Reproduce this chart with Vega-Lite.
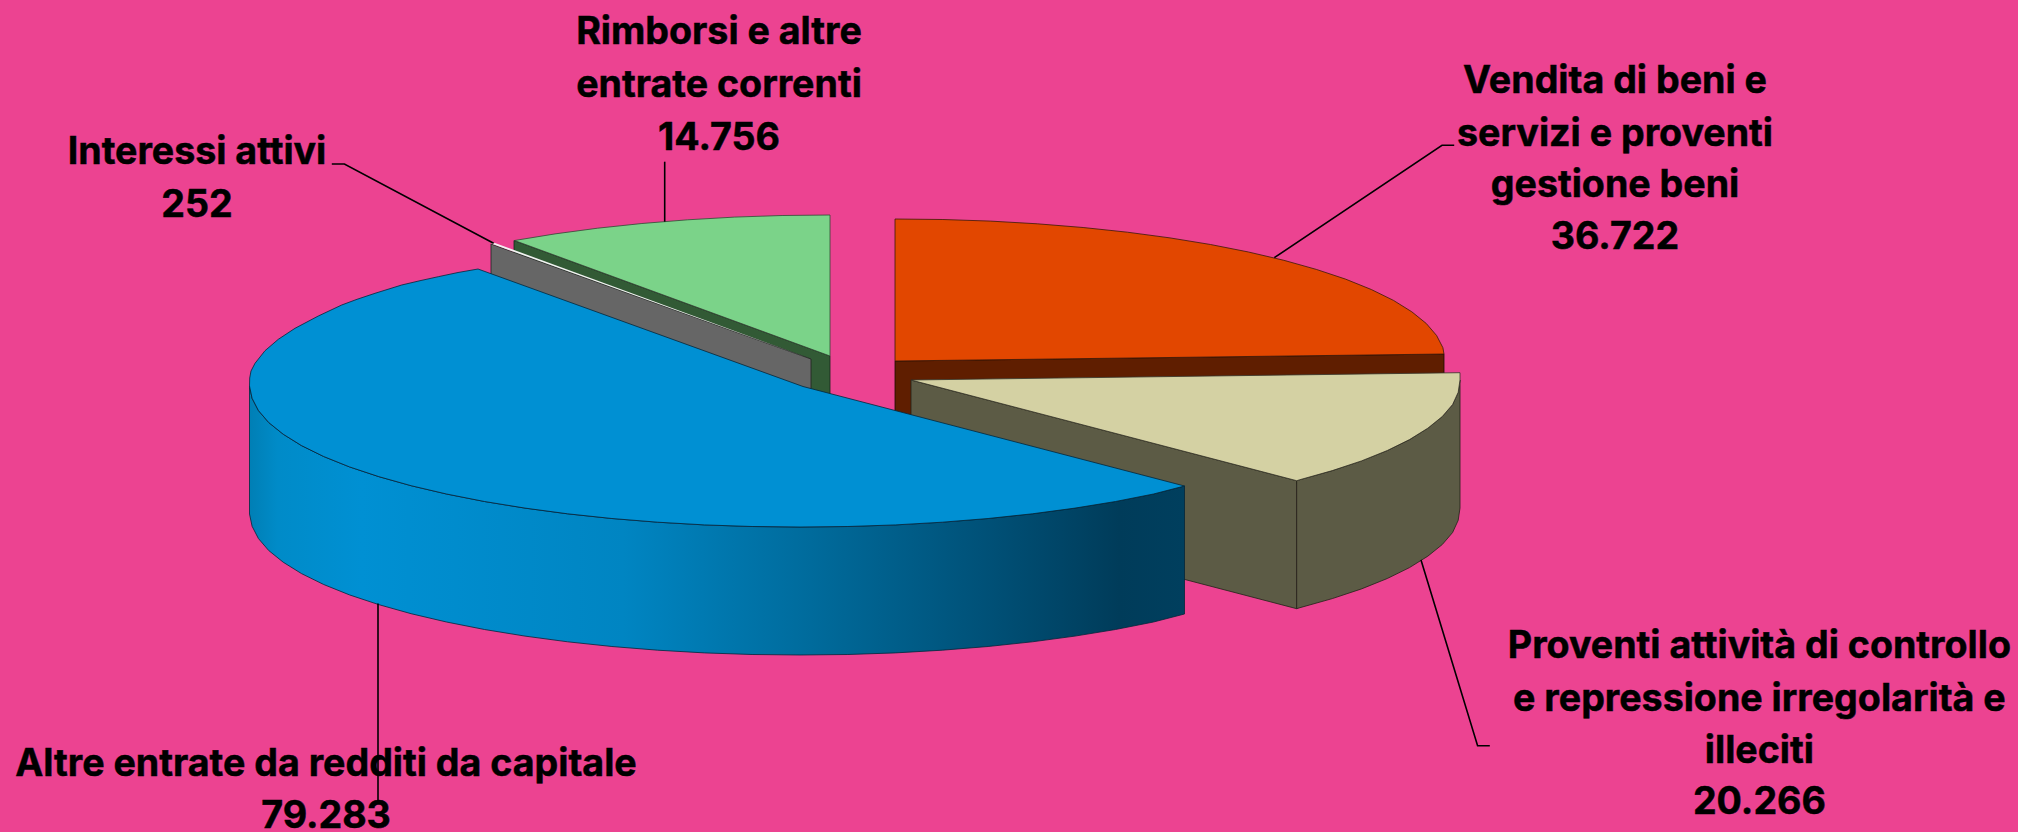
{"$schema":"https://vega.github.io/schema/vega-lite/v6.json","width":2018,"height":832,"autosize":{"type":"fit","contains":"padding"},"padding":0,"background":"#ec4391","config":{"view":{"stroke":null}},
"datasets":{
"poly":[
{"s":"orangeCut","i":0,"x":895,"y":361},{"s":"orangeCut","i":1,"x":1444,"y":354},{"s":"orangeCut","i":2,"x":1444,"y":482},{"s":"orangeCut","i":3,"x":895,"y":489},{"s":"orangeCut","i":4,"x":895,"y":361},
{"s":"orangeTop","i":0,"x":895,"y":361},{"s":"orangeTop","i":1,"x":895,"y":219},{"s":"orangeTop","i":2,"x":942.9,"y":219.5},{"s":"orangeTop","i":3,"x":990.5,"y":221.1},{"s":"orangeTop","i":4,"x":1037.3,"y":223.8},{"s":"orangeTop","i":5,"x":1083.1,"y":227.5},{"s":"orangeTop","i":6,"x":1127.4,"y":232.2},{"s":"orangeTop","i":7,"x":1170,"y":237.9},{"s":"orangeTop","i":8,"x":1210.5,"y":244.5},{"s":"orangeTop","i":9,"x":1248.5,"y":252},{"s":"orangeTop","i":10,"x":1283.9,"y":260.3},{"s":"orangeTop","i":11,"x":1316.3,"y":269.4},{"s":"orangeTop","i":12,"x":1345.5,"y":279.1},{"s":"orangeTop","i":13,"x":1371.3,"y":289.5},{"s":"orangeTop","i":14,"x":1393.5,"y":300.4},{"s":"orangeTop","i":15,"x":1411.8,"y":311.8},{"s":"orangeTop","i":16,"x":1426.3,"y":323.5},{"s":"orangeTop","i":17,"x":1436.6,"y":335.5},{"s":"orangeTop","i":18,"x":1442.9,"y":347.7},{"s":"orangeTop","i":19,"x":1444,"y":354},{"s":"orangeTop","i":20,"x":895,"y":361},
{"s":"greenCut","i":0,"x":514,"y":240.5},{"s":"greenCut","i":1,"x":830,"y":356},{"s":"greenCut","i":2,"x":830,"y":484},{"s":"greenCut","i":3,"x":514,"y":368.5},{"s":"greenCut","i":4,"x":514,"y":240.5},
{"s":"greenTop","i":0,"x":830,"y":356},{"s":"greenTop","i":1,"x":830,"y":215},{"s":"greenTop","i":2,"x":782.1,"y":215.5},{"s":"greenTop","i":3,"x":734.5,"y":217.1},{"s":"greenTop","i":4,"x":687.7,"y":219.8},{"s":"greenTop","i":5,"x":641.9,"y":223.5},{"s":"greenTop","i":6,"x":597.6,"y":228.2},{"s":"greenTop","i":7,"x":555,"y":233.9},{"s":"greenTop","i":8,"x":514.5,"y":240.5},{"s":"greenTop","i":9,"x":830,"y":356},
{"s":"grayCut","i":0,"x":491,"y":244},{"s":"grayCut","i":1,"x":811,"y":359},{"s":"grayCut","i":2,"x":811,"y":487},{"s":"grayCut","i":3,"x":491,"y":372},{"s":"grayCut","i":4,"x":491,"y":244},
{"s":"grayTop","i":0,"x":811,"y":359},{"s":"grayTop","i":1,"x":491,"y":243.6},{"s":"grayTop","i":2,"x":495,"y":243},{"s":"grayTop","i":3,"x":811,"y":359},
{"s":"beigeCut","i":0,"x":911,"y":380},{"s":"beigeCut","i":1,"x":1296.7,"y":480.7},{"s":"beigeCut","i":2,"x":1296.7,"y":608.7},{"s":"beigeCut","i":3,"x":911,"y":508},{"s":"beigeCut","i":4,"x":911,"y":380},
{"s":"beigeRim","i":0,"x":1296.7,"y":480.7},{"s":"beigeRim","i":1,"x":1299.9,"y":479.7},{"s":"beigeRim","i":2,"x":1332.3,"y":470.6},{"s":"beigeRim","i":3,"x":1361.5,"y":460.9},{"s":"beigeRim","i":4,"x":1387.3,"y":450.5},{"s":"beigeRim","i":5,"x":1409.5,"y":439.6},{"s":"beigeRim","i":6,"x":1427.8,"y":428.2},{"s":"beigeRim","i":7,"x":1442.3,"y":416.5},{"s":"beigeRim","i":8,"x":1452.6,"y":404.5},{"s":"beigeRim","i":9,"x":1458.2,"y":392.3},{"s":"beigeRim","i":10,"x":1460,"y":380},{"s":"beigeRim","i":11,"x":1460,"y":508},{"s":"beigeRim","i":12,"x":1458.2,"y":520.3},{"s":"beigeRim","i":13,"x":1452.6,"y":532.5},{"s":"beigeRim","i":14,"x":1442.3,"y":544.5},{"s":"beigeRim","i":15,"x":1427.8,"y":556.2},{"s":"beigeRim","i":16,"x":1409.5,"y":567.6},{"s":"beigeRim","i":17,"x":1387.3,"y":578.5},{"s":"beigeRim","i":18,"x":1361.5,"y":588.9},{"s":"beigeRim","i":19,"x":1332.3,"y":598.6},{"s":"beigeRim","i":20,"x":1299.9,"y":607.7},{"s":"beigeRim","i":21,"x":1296.7,"y":608.7},{"s":"beigeRim","i":22,"x":1296.7,"y":480.7},
{"s":"beigeTop","i":0,"x":911,"y":380},{"s":"beigeTop","i":1,"x":1460,"y":372.7},{"s":"beigeTop","i":2,"x":1460,"y":380},{"s":"beigeTop","i":3,"x":1458.2,"y":392.3},{"s":"beigeTop","i":4,"x":1452.6,"y":404.5},{"s":"beigeTop","i":5,"x":1442.3,"y":416.5},{"s":"beigeTop","i":6,"x":1427.8,"y":428.2},{"s":"beigeTop","i":7,"x":1409.5,"y":439.6},{"s":"beigeTop","i":8,"x":1387.3,"y":450.5},{"s":"beigeTop","i":9,"x":1361.5,"y":460.9},{"s":"beigeTop","i":10,"x":1332.3,"y":470.6},{"s":"beigeTop","i":11,"x":1299.9,"y":479.7},{"s":"beigeTop","i":12,"x":1296.7,"y":480.7},{"s":"beigeTop","i":13,"x":911,"y":380},
{"s":"blueSide","i":0,"x":249.5,"y":386},{"s":"blueSide","i":1,"x":252.1,"y":398.3},{"s":"blueSide","i":2,"x":258.4,"y":410.5},{"s":"blueSide","i":3,"x":268.7,"y":422.5},{"s":"blueSide","i":4,"x":283.2,"y":434.2},{"s":"blueSide","i":5,"x":301.5,"y":445.6},{"s":"blueSide","i":6,"x":323.7,"y":456.5},{"s":"blueSide","i":7,"x":349.5,"y":466.9},{"s":"blueSide","i":8,"x":378.7,"y":476.6},{"s":"blueSide","i":9,"x":411.1,"y":485.7},{"s":"blueSide","i":10,"x":446.5,"y":494},{"s":"blueSide","i":11,"x":484.5,"y":501.5},{"s":"blueSide","i":12,"x":525,"y":508.1},{"s":"blueSide","i":13,"x":567.6,"y":513.8},{"s":"blueSide","i":14,"x":611.9,"y":518.5},{"s":"blueSide","i":15,"x":657.7,"y":522.2},{"s":"blueSide","i":16,"x":704.5,"y":524.9},{"s":"blueSide","i":17,"x":752.1,"y":526.5},{"s":"blueSide","i":18,"x":800,"y":527},{"s":"blueSide","i":19,"x":847.9,"y":526.5},{"s":"blueSide","i":20,"x":895.5,"y":524.9},{"s":"blueSide","i":21,"x":942.3,"y":522.2},{"s":"blueSide","i":22,"x":988.1,"y":518.5},{"s":"blueSide","i":23,"x":1032.4,"y":513.8},{"s":"blueSide","i":24,"x":1075,"y":508.1},{"s":"blueSide","i":25,"x":1115.5,"y":501.5},{"s":"blueSide","i":26,"x":1153.5,"y":494},{"s":"blueSide","i":27,"x":1184.5,"y":486},
{"s":"blueSide","i":28,"x":1184.5,"y":614},{"s":"blueSide","i":29,"x":1153.5,"y":622},{"s":"blueSide","i":30,"x":1115.5,"y":629.5},{"s":"blueSide","i":31,"x":1075,"y":636.1},{"s":"blueSide","i":32,"x":1032.4,"y":641.8},{"s":"blueSide","i":33,"x":988.1,"y":646.5},{"s":"blueSide","i":34,"x":942.3,"y":650.2},{"s":"blueSide","i":35,"x":895.5,"y":652.9},{"s":"blueSide","i":36,"x":847.9,"y":654.5},{"s":"blueSide","i":37,"x":800,"y":655},{"s":"blueSide","i":38,"x":752.1,"y":654.5},{"s":"blueSide","i":39,"x":704.5,"y":652.9},{"s":"blueSide","i":40,"x":657.7,"y":650.2},{"s":"blueSide","i":41,"x":611.9,"y":646.5},{"s":"blueSide","i":42,"x":567.6,"y":641.8},{"s":"blueSide","i":43,"x":525,"y":636.1},{"s":"blueSide","i":44,"x":484.5,"y":629.5},{"s":"blueSide","i":45,"x":446.5,"y":622},{"s":"blueSide","i":46,"x":411.1,"y":613.7},{"s":"blueSide","i":47,"x":378.7,"y":604.6},{"s":"blueSide","i":48,"x":349.5,"y":594.9},{"s":"blueSide","i":49,"x":323.7,"y":584.5},{"s":"blueSide","i":50,"x":301.5,"y":573.6},{"s":"blueSide","i":51,"x":283.2,"y":562.2},{"s":"blueSide","i":52,"x":268.7,"y":550.5},{"s":"blueSide","i":53,"x":258.4,"y":538.5},{"s":"blueSide","i":54,"x":252.1,"y":526.3},{"s":"blueSide","i":55,"x":249.5,"y":514},{"s":"blueSide","i":56,"x":249.5,"y":386},
{"s":"blueTop","i":0,"x":803,"y":386.5},{"s":"blueTop","i":1,"x":478,"y":269},{"s":"blueTop","i":2,"x":458,"y":272.5},{"s":"blueTop","i":3,"x":438.3,"y":276.7},{"s":"blueTop","i":4,"x":420,"y":280.7},{"s":"blueTop","i":5,"x":401.7,"y":285},{"s":"blueTop","i":6,"x":375,"y":293.3},{"s":"blueTop","i":7,"x":357,"y":299.3},{"s":"blueTop","i":8,"x":341.7,"y":305},{"s":"blueTop","i":9,"x":318.3,"y":316},{"s":"blueTop","i":10,"x":295,"y":328.3},{"s":"blueTop","i":11,"x":278.3,"y":339.3},{"s":"blueTop","i":12,"x":265,"y":350.7},{"s":"blueTop","i":13,"x":255,"y":363.3},{"s":"blueTop","i":14,"x":251,"y":371},{"s":"blueTop","i":15,"x":249.7,"y":378},{"s":"blueTop","i":16,"x":249.5,"y":386},{"s":"blueTop","i":17,"x":252.1,"y":398.3},{"s":"blueTop","i":18,"x":258.4,"y":410.5},{"s":"blueTop","i":19,"x":268.7,"y":422.5},{"s":"blueTop","i":20,"x":283.2,"y":434.2},{"s":"blueTop","i":21,"x":301.5,"y":445.6},{"s":"blueTop","i":22,"x":323.7,"y":456.5},{"s":"blueTop","i":23,"x":349.5,"y":466.9},{"s":"blueTop","i":24,"x":378.7,"y":476.6},{"s":"blueTop","i":25,"x":411.1,"y":485.7},{"s":"blueTop","i":26,"x":446.5,"y":494},{"s":"blueTop","i":27,"x":484.5,"y":501.5},{"s":"blueTop","i":28,"x":525,"y":508.1},{"s":"blueTop","i":29,"x":567.6,"y":513.8},{"s":"blueTop","i":30,"x":611.9,"y":518.5},{"s":"blueTop","i":31,"x":657.7,"y":522.2},{"s":"blueTop","i":32,"x":704.5,"y":524.9},{"s":"blueTop","i":33,"x":752.1,"y":526.5},{"s":"blueTop","i":34,"x":800,"y":527},{"s":"blueTop","i":35,"x":847.9,"y":526.5},{"s":"blueTop","i":36,"x":895.5,"y":524.9},{"s":"blueTop","i":37,"x":942.3,"y":522.2},{"s":"blueTop","i":38,"x":988.1,"y":518.5},{"s":"blueTop","i":39,"x":1032.4,"y":513.8},{"s":"blueTop","i":40,"x":1075,"y":508.1},{"s":"blueTop","i":41,"x":1115.5,"y":501.5},{"s":"blueTop","i":42,"x":1153.5,"y":494},{"s":"blueTop","i":43,"x":1184.5,"y":486},{"s":"blueTop","i":44,"x":803,"y":386.5}
],
"leaders":[
{"s":"Rimborsi","i":0,"x":664.7,"y":161.7},{"s":"Rimborsi","i":1,"x":664.7,"y":221.7},
{"s":"Interessi","i":0,"x":331.8,"y":164},{"s":"Interessi","i":1,"x":344.4,"y":164},{"s":"Interessi","i":2,"x":493.6,"y":243.3},
{"s":"Vendita","i":0,"x":1274.3,"y":257.7},{"s":"Vendita","i":1,"x":1442,"y":145.3},{"s":"Vendita","i":2,"x":1454.2,"y":145.3},
{"s":"Proventi","i":0,"x":1421,"y":560},{"s":"Proventi","i":1,"x":1477.6,"y":745.7},{"s":"Proventi","i":2,"x":1489.8,"y":745.7},
{"s":"Altre","i":0,"x":378,"y":603.5},{"s":"Altre","i":1,"x":378,"y":803}
],
"labels":[
{"t":"Vendita di beni e","x":1615,"y":92.7},{"t":"servizi e proventi","x":1615,"y":145.7},{"t":"gestione beni","x":1615,"y":196.7},{"t":"36.722","x":1615,"y":249.3},
{"t":"Rimborsi e altre","x":719,"y":44.3},{"t":"entrate correnti","x":719,"y":96.7},{"t":"14.756","x":719,"y":149.7},
{"t":"Interessi attivi","x":197,"y":164.3},{"t":"252","x":197,"y":216.7},
{"t":"Proventi attività di controllo","x":1759.4,"y":658.3},{"t":"e repressione irregolarità e","x":1759.4,"y":710.7},{"t":"illeciti","x":1759.4,"y":762.7},{"t":"20.266","x":1759.4,"y":814.3},
{"t":"Altre entrate da redditi da capitale","x":326,"y":775.7},{"t":"79.283","x":326,"y":828.3}
]},
"encoding":{
"x":{"field":"x","type":"quantitative","scale":{"domain":[0,2018],"range":[0,2018],"nice":false,"zero":false},"axis":null},
"y":{"field":"y","type":"quantitative","scale":{"domain":[0,832],"range":[0,832],"nice":false,"zero":false},"axis":null},
"order":{"field":"i","type":"quantitative"}},
"layer":[
{"data":{"name":"poly"},"transform":[{"filter":"datum.s=='orangeCut'"}],"mark":{"type":"line","fill":"#5f1e00","stroke":"#1a0a00","strokeWidth":0.8}},
{"data":{"name":"poly"},"transform":[{"filter":"datum.s=='orangeTop'"}],"mark":{"type":"line","fill":"#e24700","stroke":"#3a1a08","strokeWidth":0.8}},
{"data":{"name":"poly"},"transform":[{"filter":"datum.s=='greenCut'"}],"mark":{"type":"line","fill":"#325a35","stroke":"#14261a","strokeWidth":0.8}},
{"data":{"name":"poly"},"transform":[{"filter":"datum.s=='greenTop'"}],"mark":{"type":"line","fill":"#7bd389","stroke":"#2e4a34","strokeWidth":0.8}},
{"data":{"name":"poly"},"transform":[{"filter":"datum.s=='grayCut'"}],"mark":{"type":"line","fill":"#666666","stroke":"#222222","strokeWidth":0.8}},
{"data":{"name":"poly"},"transform":[{"filter":"datum.s=='grayTop'"}],"mark":{"type":"line","fill":"#f2f2f2","strokeWidth":0}},
{"data":{"name":"poly"},"transform":[{"filter":"datum.s=='beigeCut'"}],"mark":{"type":"line","fill":"#5c5b45","stroke":"#222218","strokeWidth":0.8}},
{"data":{"name":"poly"},"transform":[{"filter":"datum.s=='beigeRim'"}],"mark":{"type":"line","fill":"#5c5b45","stroke":"#222218","strokeWidth":0.8}},
{"data":{"name":"poly"},"transform":[{"filter":"datum.s=='beigeTop'"}],"mark":{"type":"line","fill":"#d4d1a3","stroke":"#33332a","strokeWidth":0.8}},
{"data":{"name":"poly"},"transform":[{"filter":"datum.s=='blueSide'"}],"mark":{"type":"line","stroke":"#04263a","strokeWidth":0.8,"fill":{"gradient":"linear","x1":0,"y1":0,"x2":1,"y2":0,"stops":[{"offset":0,"color":"#007fb5"},{"offset":0.03,"color":"#008bc8"},{"offset":0.12,"color":"#0090d3"},{"offset":0.4,"color":"#0085c2"},{"offset":0.6,"color":"#006b9c"},{"offset":0.8,"color":"#004f75"},{"offset":0.93,"color":"#003c5a"},{"offset":1,"color":"#003f5e"}]}}},
{"data":{"name":"poly"},"transform":[{"filter":"datum.s=='blueTop'"}],"mark":{"type":"line","fill":"#0090d3","stroke":"#04263a","strokeWidth":0.8}},
{"data":{"name":"leaders"},"mark":{"type":"line","stroke":"#000000","strokeWidth":1.6},"encoding":{"detail":{"field":"s"}}},
{"data":{"name":"labels"},"mark":{"type":"text","font":"Inter","fontWeight":"bold","fontSize":37.6,"stroke":"#000000","strokeWidth":0.5,"align":"center","baseline":"alphabetic","color":"#000000"},"encoding":{"text":{"field":"t"}}}
]}
